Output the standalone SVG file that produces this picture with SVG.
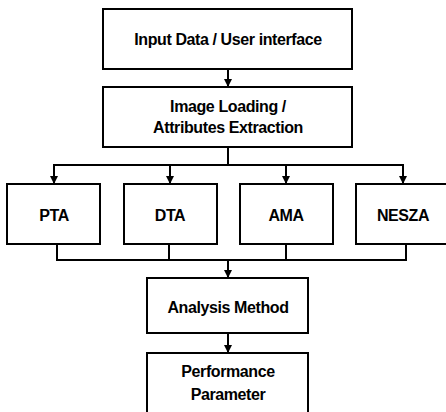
<svg xmlns="http://www.w3.org/2000/svg" width="446" height="412" viewBox="0 0 446 412">
<style>
.box{fill:#fff;stroke:#000;stroke-width:2}
.ln{fill:none;stroke:#000;stroke-width:2}
text{font-family:"Liberation Sans",Arial,sans-serif;font-weight:bold;font-size:16px;letter-spacing:-0.4px;text-anchor:middle;fill:#000}
</style>
<defs>
<marker id="ah" viewBox="0 0 8 8" refX="8" refY="4" markerWidth="4" markerHeight="4" markerUnits="strokeWidth" orient="auto">
<path d="M0,0 L8,4 L0,8 Z" fill="#000"/>
</marker>
</defs>
<rect width="446" height="412" fill="#fff"/>
<g id="connectors">
<line class="ln" x1="228" y1="69" x2="228" y2="87" marker-end="url(#ah)"/>
<line class="ln" x1="228" y1="147" x2="228" y2="165"/>
<line class="ln" x1="53" y1="165" x2="404" y2="165"/>
<line class="ln" x1="54" y1="164" x2="54" y2="184" marker-end="url(#ah)"/>
<line class="ln" x1="170" y1="164" x2="170" y2="184" marker-end="url(#ah)"/>
<line class="ln" x1="286" y1="164" x2="286" y2="184" marker-end="url(#ah)"/>
<line class="ln" x1="403" y1="164" x2="403" y2="184" marker-end="url(#ah)"/>
<polyline class="ln" points="57,244 57,260 406,260 406,244"/>
<line class="ln" x1="169" y1="244" x2="169" y2="260"/>
<line class="ln" x1="286" y1="244" x2="286" y2="260"/>
<line class="ln" x1="228" y1="260" x2="228" y2="278" marker-end="url(#ah)"/>
<line class="ln" x1="228" y1="333" x2="228" y2="353" marker-end="url(#ah)"/>
</g>
<g id="input">
<rect class="box" x="103" y="9" width="249" height="60"/>
<text x="228" y="45">Input Data / User interface</text>
</g>
<g id="loading">
<rect class="box" x="103" y="87" width="249" height="60"/>
<text x="228" y="112">Image Loading /</text>
<text x="228" y="133">Attributes Extraction</text>
</g>
<g id="pta">
<rect class="box" x="7" y="184" width="93" height="60"/>
<text x="54" y="221">PTA</text>
</g>
<g id="dta">
<rect class="box" x="124" y="184" width="93" height="60"/>
<text x="170" y="221">DTA</text>
</g>
<g id="ama">
<rect class="box" x="240" y="184" width="93" height="60"/>
<text x="286" y="221">AMA</text>
</g>
<g id="nesza">
<rect class="box" x="356" y="184" width="96" height="60"/>
<text x="403" y="221">NESZA</text>
</g>
<g id="analysis">
<rect class="box" x="147" y="278" width="161" height="55"/>
<text x="228" y="313">Analysis Method</text>
</g>
<g id="performance">
<rect class="box" x="147" y="353" width="161" height="70"/>
<text x="228" y="377">Performance</text>
<text x="228" y="400">Parameter</text>
</g>
</svg>
